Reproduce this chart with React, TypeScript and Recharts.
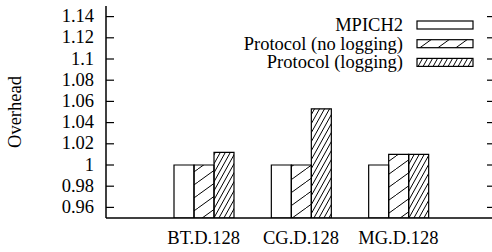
import React from 'react';
import { BarChart, Bar, XAxis, YAxis } from 'recharts';

const categories = ['BT.D.128', 'CG.D.128', 'MG.D.128'];
const mpich2 = [1.0, 1.0, 1.0];
const noLogging = [1.0, 1.0, 1.01];
const logging = [1.012, 1.053, 1.01];
const seriesNames = ['MPICH2', 'Protocol (no logging)', 'Protocol (logging)'];
const yTicks = [0.96, 0.98, 1, 1.02, 1.04, 1.06, 1.08, 1.1, 1.12, 1.14];

const data = categories.map((name, i) => ({
  name,
  mpich2: mpich2[i],
  noLogging: noLogging[i],
  logging: logging[i],
}));

const textStyle = { fontFamily: 'Liberation Serif', fontSize: 18.5 };
const fills = ['#ffffff', 'url(#hatchSparse)', 'url(#hatchDense)'];
const keys = ['mpich2', 'noLogging', 'logging'];

const fmt = (v: number) => String(Number(v.toFixed(2)));

function LeftTick(props: any) {
  const { x, y, payload } = props;
  const axisX = x + 12;
  return (
    <g>
      <line x1={axisX} x2={axisX + 8} y1={y} y2={y} stroke="#000" strokeWidth={1.2} />
      <text x={x} y={y + 5.5} textAnchor="end" style={textStyle} fill="#000">
        {fmt(payload.value)}
      </text>
    </g>
  );
}

function RightTick(props: any) {
  const { x, y } = props;
  return <line x1={x - 8} x2={x} y1={y} y2={y} stroke="#000" strokeWidth={1.2} />;
}

function TopTick(props: any) {
  const { x, y } = props;
  return <line x1={x} x2={x} y1={y} y2={y + 7} stroke="#000" strokeWidth={1.2} />;
}

function BottomTick(props: any) {
  const { x, y, payload } = props;
  return (
    <text x={x} y={y + 26} textAnchor="middle" style={textStyle} fill="#000">
      {payload.value}
    </text>
  );
}

export default function App() {
  return (
    <div style={{ position: 'absolute', left: 0, top: 0, width: 492, height: 252, overflow: 'hidden', background: '#fff' }}>
      <BarChart
        width={500}
        height={252}
        data={data}
        margin={{ top: 6, right: 0, bottom: 0, left: 0 }}
        barSize={20}
        barGap={0}
      >
        <defs>
          <pattern id="hatchSparse" patternUnits="userSpaceOnUse" width="18" height="13">
            <path d="M0,13 L18,0 M-18,13 L0,0 M18,13 L36,0" stroke="#000" strokeWidth="1" />
          </pattern>
          <pattern id="hatchDense" patternUnits="userSpaceOnUse" width="5" height="9">
            <path d="M0,9 L5,0 M-5,9 L0,0 M5,9 L10,0" stroke="#000" strokeWidth="1" />
          </pattern>
        </defs>
        <XAxis
          dataKey="name"
          height={34}
          padding={{ left: 49, right: 48 }}
          tickSize={0}
          tickMargin={0}
          axisLine={{ stroke: '#000', strokeWidth: 1.5 }}
          tick={<BottomTick />}
          interval={0}
        />
        <XAxis
          xAxisId="top"
          dataKey="name"
          orientation="top"
          height={0}
          padding={{ left: 49, right: 48 }}
          tickSize={0}
          tickMargin={0}
          axisLine={{ stroke: '#000', strokeWidth: 1.5 }}
          tick={<TopTick />}
          interval={0}
        />
        <YAxis
          width={106}
          domain={[0.95, 1.15]}
          ticks={yTicks}
          allowDataOverflow
          tickSize={0}
          tickMargin={12}
          axisLine={{ stroke: '#000', strokeWidth: 1.5 }}
          tick={<LeftTick />}
          interval={0}
          label={{
            content: () => (
              <text
                x={0}
                y={0}
                transform="translate(21,112) rotate(-90)"
                textAnchor="middle"
                style={textStyle}
                fill="#000"
              >
                Overhead
              </text>
            ),
          }}
        />
        <YAxis
          yAxisId="right"
          orientation="right"
          width={5}
          domain={[0.95, 1.15]}
          ticks={yTicks}
          allowDataOverflow
          tickSize={0}
          tickMargin={0}
          axisLine={{ stroke: '#000', strokeWidth: 1.5 }}
          tick={<RightTick />}
          interval={0}
        />
        {keys.map((k, i) => (
          <Bar
            key={k}
            dataKey={k}
            name={seriesNames[i]}
            fill={fills[i]}
            stroke="#000"
            strokeWidth={1.2}
            isAnimationActive={false}
          />
        ))}
        <g>
          {seriesNames.map((n, i) => (
            <g key={n}>
              <text x={403} y={31 + i * 18.7} textAnchor="end" style={textStyle} fill="#000">
                {n}
              </text>
              <rect x={417} y={21 + i * 18.7} width={56} height={8} fill={fills[i]} stroke="#000" strokeWidth={1.2} />
            </g>
          ))}
        </g>
      </BarChart>
    </div>
  );
}
